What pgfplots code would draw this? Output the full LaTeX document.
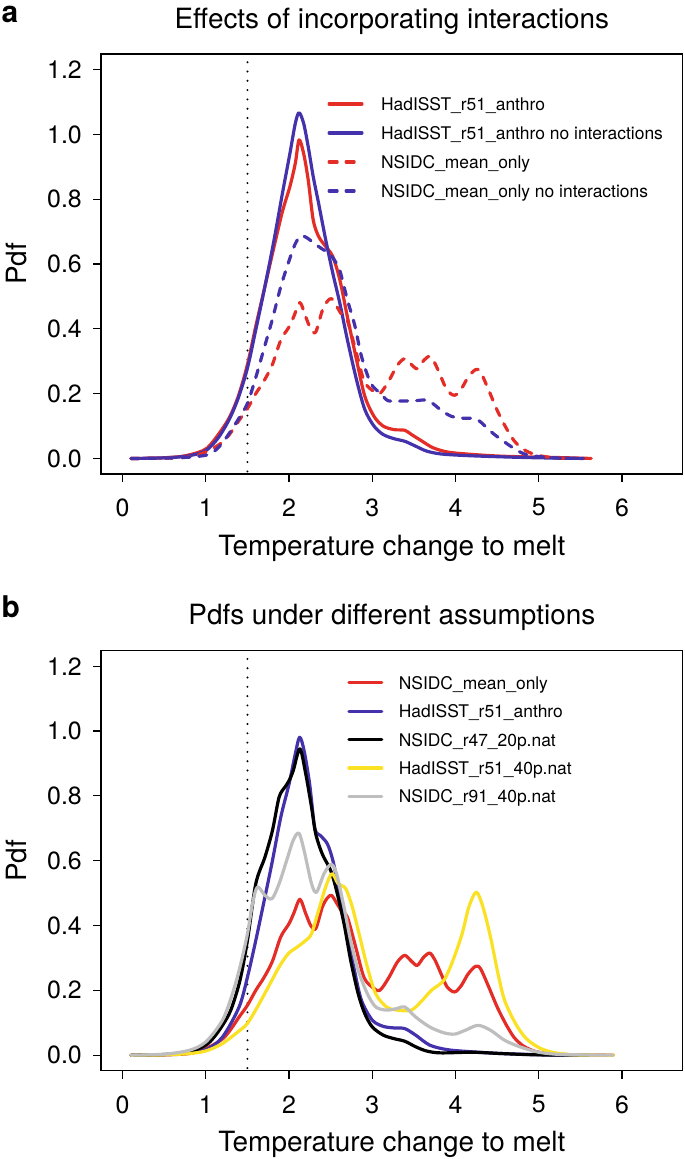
\documentclass[border=0pt]{standalone}
\usepackage{fontspec}
\setmainfont{TeX Gyre Heros}
\usepackage{pgfplots}
\pgfplotsset{compat=1.18}
\usepackage{pgfplotstable}

\definecolor{cRed}{RGB}{227,45,38}
\definecolor{cBlue}{RGB}{68,50,172}
\definecolor{cYellow}{RGB}{250,225,35}
\definecolor{cGray}{RGB}{190,190,190}

\pgfplotstableread{
x y
0.10 0
0.40 0.001
0.70 0.006
0.90 0.018
1.02 0.033
1.15 0.074
1.28 0.125
1.39 0.192
1.50 0.290
1.60 0.408
1.71 0.531
1.82 0.654
1.92 0.762
2.01 0.839
2.075 0.911
2.12 0.983
2.175 0.941
2.23 0.859
2.29 0.736
2.355 0.685
2.44 0.654
2.525 0.623
2.61 0.551
2.70 0.438
2.81 0.305
2.91 0.192
3.02 0.130
3.13 0.100
3.26 0.089
3.39 0.087
3.47 0.074
3.60 0.053
3.73 0.033
3.90 0.020
4.12 0.014
4.55 0.007
5.20 0.003
5.63 0
}\aRed

\pgfplotstableread{
x y
0.10 0
0.40 0.001
0.70 0.005
0.90 0.014
1.02 0.028
1.15 0.064
1.28 0.120
1.39 0.187
1.50 0.279
1.60 0.397
1.71 0.531
1.82 0.675
1.92 0.818
2.01 0.941
2.075 1.034
2.12 1.067
2.175 1.034
2.23 0.962
2.29 0.870
2.355 0.787
2.44 0.675
2.525 0.572
2.61 0.479
2.70 0.367
2.81 0.243
2.91 0.151
3.02 0.100
3.13 0.074
3.26 0.061
3.39 0.053
3.52 0.038
3.65 0.023
3.82 0.014
4.12 0.009
4.55 0.005
5.00 0.002
5.54 0
}\aBlue

\pgfplotstableread{
x y
0.10 0
0.50 0.001
0.80 0.005
1.00 0.020
1.20 0.050
1.30 0.080
1.40 0.118
1.50 0.154
1.60 0.200
1.70 0.240
1.80 0.290
1.90 0.365
2.00 0.406
2.06 0.440
2.13 0.481
2.20 0.437
2.26 0.400
2.32 0.390
2.40 0.457
2.46 0.485
2.51 0.493
2.57 0.470
2.63 0.445
2.70 0.426
2.80 0.334
2.90 0.240
3.00 0.210
3.09 0.200
3.20 0.240
3.30 0.287
3.39 0.308
3.47 0.290
3.54 0.277
3.62 0.303
3.69 0.315
3.75 0.295
3.82 0.255
3.90 0.210
3.99 0.195
4.07 0.215
4.15 0.250
4.24 0.274
4.30 0.267
4.40 0.210
4.50 0.149
4.60 0.098
4.70 0.056
4.80 0.031
4.90 0.017
5.00 0.009
5.20 0.003
5.50 0.001
5.90 0
}\bRed

\pgfplotstableread{
x y
0.10 0
0.50 0.001
0.80 0.005
1.00 0.020
1.20 0.050
1.30 0.080
1.40 0.118
1.50 0.154
1.60 0.200
1.70 0.240
1.80 0.290
1.90 0.365
2.00 0.406
2.06 0.440
2.13 0.481
2.20 0.437
2.26 0.400
2.32 0.390
2.40 0.457
2.46 0.485
2.51 0.493
2.57 0.470
2.63 0.445
2.70 0.426
2.80 0.334
2.90 0.240
3.00 0.210
3.09 0.200
3.20 0.240
3.30 0.287
3.39 0.308
3.47 0.290
3.54 0.277
3.62 0.303
3.69 0.315
3.75 0.295
3.82 0.255
3.90 0.210
3.99 0.195
4.07 0.215
4.15 0.250
4.24 0.274
4.30 0.267
4.40 0.210
4.50 0.149
4.60 0.098
4.70 0.056
4.80 0.031
4.90 0.017
5.00 0.009
5.15 0.003
5.30 0
}\aRedD

\pgfplotstableread{
x y
0.10 0
0.50 0.001
0.80 0.004
1.00 0.010
1.10 0.022
1.20 0.048
1.30 0.085
1.40 0.125
1.50 0.170
1.60 0.250
1.70 0.340
1.80 0.430
1.90 0.530
2.00 0.610
2.07 0.660
2.14 0.687
2.22 0.680
2.30 0.664
2.40 0.646
2.48 0.633
2.55 0.610
2.61 0.580
2.70 0.490
2.79 0.410
2.87 0.315
2.98 0.233
3.09 0.202
3.19 0.178
3.30 0.177
3.50 0.178
3.65 0.180
3.75 0.165
3.82 0.150
3.95 0.130
4.10 0.124
4.20 0.124
4.29 0.115
4.42 0.084
4.55 0.058
4.72 0.028
4.85 0.012
5.07 0.004
5.30 0
}\aBlueD

\pgfplotstableread{
x y
0.10 0
0.40 0.001
0.70 0.004
1.00 0.017
1.20 0.056
1.40 0.149
1.50 0.241
1.60 0.354
1.71 0.488
1.80 0.600
1.90 0.734
2.00 0.837
2.075 0.930
2.127 0.981
2.18 0.940
2.247 0.837
2.31 0.700
2.376 0.678
2.46 0.652
2.527 0.600
2.61 0.498
2.70 0.375
2.785 0.262
2.87 0.169
3.00 0.108
3.13 0.089
3.26 0.084
3.39 0.082
3.52 0.062
3.69 0.031
3.90 0.017
4.16 0.011
4.55 0.005
4.90 0.002
5.30 0
}\bBlue

\pgfplotstableread{
x y
0.10 0
0.50 0.002
0.80 0.010
1.00 0.031
1.10 0.056
1.20 0.092
1.30 0.139
1.41 0.231
1.50 0.354
1.60 0.529
1.71 0.611
1.80 0.693
1.88 0.796
1.95 0.827
2.00 0.847
2.05 0.878
2.13 0.945
2.20 0.868
2.27 0.765
2.32 0.683
2.40 0.620
2.50 0.570
2.57 0.508
2.66 0.406
2.74 0.293
2.83 0.190
2.91 0.128
3.00 0.087
3.13 0.062
3.26 0.051
3.39 0.043
3.52 0.026
3.65 0.013
3.82 0.007
4.20 0.009
4.55 0.005
4.98 0.001
5.60 0
}\bBlack

\pgfplotstableread{
x y
0.10 0
0.50 0.001
0.80 0.005
1.00 0.013
1.20 0.036
1.41 0.077
1.50 0.098
1.62 0.149
1.75 0.210
1.88 0.272
1.99 0.313
2.10 0.334
2.20 0.354
2.27 0.375
2.355 0.447
2.44 0.519
2.514 0.560
2.59 0.529
2.68 0.514
2.76 0.457
2.85 0.365
2.94 0.272
3.04 0.190
3.17 0.149
3.30 0.139
3.47 0.139
3.60 0.169
3.71 0.200
3.86 0.231
3.97 0.293
4.08 0.375
4.16 0.457
4.25 0.503
4.33 0.457
4.42 0.365
4.51 0.252
4.59 0.169
4.72 0.098
4.85 0.051
5.02 0.021
5.20 0.007
5.45 0.001
5.90 0
}\bYellow

\pgfplotstableread{
x y
0.10 0
0.50 0.003
0.80 0.015
1.00 0.041
1.20 0.108
1.32 0.190
1.41 0.272
1.50 0.375
1.56 0.467
1.62 0.519
1.71 0.493
1.795 0.483
1.88 0.529
1.97 0.600
2.05 0.663
2.118 0.685
2.18 0.632
2.27 0.529
2.33 0.503
2.42 0.560
2.505 0.589
2.57 0.560
2.66 0.457
2.74 0.354
2.83 0.262
2.94 0.190
3.04 0.149
3.17 0.139
3.30 0.144
3.39 0.149
3.52 0.118
3.69 0.087
3.86 0.069
3.99 0.065
4.12 0.077
4.27 0.092
4.42 0.077
4.59 0.046
4.77 0.026
4.98 0.010
5.20 0.003
5.50 0.001
5.89 0
}\bGray

\pgfplotsset{
  rstyle/.style={
    scale only axis, width=581.7bp, height=420bp,
    xmin=-0.26, xmax=6.73, ymin=-0.048, ymax=1.248,
    axis line style={line width=1.2bp, black},
    tick align=outside, xtick pos=lower, ytick pos=left,
    major tick length=8bp, tick style={line width=1.2bp, black},
    xtick={0,1,2,3,4,5,6},
    ytick={0,0.2,0.4,0.6,0.8,1.0,1.2},
    yticklabels={0.0,0.2,0.4,0.6,0.8,1.0,1.2},
    /pgf/number format/assume math mode=true,
    tick label style={font=\fontsize{25}{25}\selectfont},
    xticklabel style={anchor=north, inner sep=0pt, yshift=-16.5bp},
    yticklabel style={anchor=east, inner sep=0pt, xshift=-11bp},
    xlabel={Temperature change to melt},
    ylabel={Pdf},
    every axis x label/.style={at={(axis description cs:0.5,-0.1929)}, anchor=base, font=\fontsize{28}{28}\selectfont},
    every axis y label/.style={at={(axis description cs:-0.146,0.5)}, anchor=center, rotate=90, font=\fontsize{28}{28}\selectfont},
    title style={at={(axis description cs:0.5,1.0476)}, anchor=base, font=\fontsize{28}{28}\selectfont},
    legend cell align=left,
    legend image code/.code={\draw[##1, line cap=round] (1.5bp,2bp) -- (34.3bp,2bp);},
    every axis plot/.append style={line width=3.2bp, line cap=round, line join=round},
  },
  dashR/.style={dash pattern=on 8bp off 9bp},
}

\begin{document}
\begin{tikzpicture}
\path[use as bounding box] (0bp,0bp) rectangle (685bp,-1159bp);

\node[anchor=base west, inner sep=0pt, font=\fontsize{30}{30}\selectfont\bfseries] at (1.5bp,-22bp) {a};
\node[anchor=base west, inner sep=0pt, font=\fontsize{30}{30}\selectfont\bfseries] at (1.5bp,-617bp) {b};

\begin{axis}[rstyle, at={(101bp,-474bp)}, anchor=south west,
  title={Effects of incorporating interactions},
  legend style={draw=none, fill=none, inner sep=0pt, outer sep=0pt,
    at={(axis cs:2.462,1.113)}, anchor=north west,
    row sep=12.7bp, column sep=17.5bp,
    font=\fontsize{17.5}{20}\selectfont,
    nodes={inner sep=0pt, text height=12.6bp, text depth=3.7bp}},
]
\addplot[black, line width=2.2bp, line cap=round, dash pattern=on 0pt off 9.3bp, forget plot] coordinates {(1.5,-0.04) (1.5,1.245)};
\addplot[cRed, smooth] table[x=x,y=y] {\aRed};
\addlegendentry{HadISST\_r51\_anthro}
\addplot[cBlue, smooth] table[x=x,y=y] {\aBlue};
\addlegendentry{HadISST\_r51\_anthro no interactions}
\addplot[cRed, smooth, dashR] table[x=x,y=y] {\aRedD};
\addlegendentry{NSIDC\_mean\_only}
\addplot[cBlue, smooth, dashR] table[x=x,y=y] {\aBlueD};
\addlegendentry{NSIDC\_mean\_only no interactions}
\end{axis}

\begin{axis}[rstyle, at={(101bp,-1070.7bp)}, anchor=south west,
  title={Pdfs under different assumptions},
  legend style={draw=none, fill=none, inner sep=0pt, outer sep=0pt,
    at={(axis cs:2.70,1.168)}, anchor=north west,
    row sep=12.1bp, column sep=15.5bp,
    font=\fontsize{17.5}{20}\selectfont,
    nodes={inner sep=0pt, text height=12.6bp, text depth=3.7bp}},
]
\addplot[black, line width=2.2bp, line cap=round, dash pattern=on 0pt off 9.3bp, forget plot] coordinates {(1.5,-0.04) (1.5,1.245)};
\addplot[cRed, smooth] table[x=x,y=y] {\bRed};
\addlegendentry{NSIDC\_mean\_only}
\addplot[cBlue, smooth] table[x=x,y=y] {\bBlue};
\addlegendentry{HadISST\_r51\_anthro}
\addplot[black, smooth] table[x=x,y=y] {\bBlack};
\addlegendentry{NSIDC\_r47\_20p.nat}
\addplot[cYellow, smooth] table[x=x,y=y] {\bYellow};
\addlegendentry{HadISST\_r51\_40p.nat}
\addplot[cGray, smooth] table[x=x,y=y] {\bGray};
\addlegendentry{NSIDC\_r91\_40p.nat}
\end{axis}
\end{tikzpicture}
\end{document}
